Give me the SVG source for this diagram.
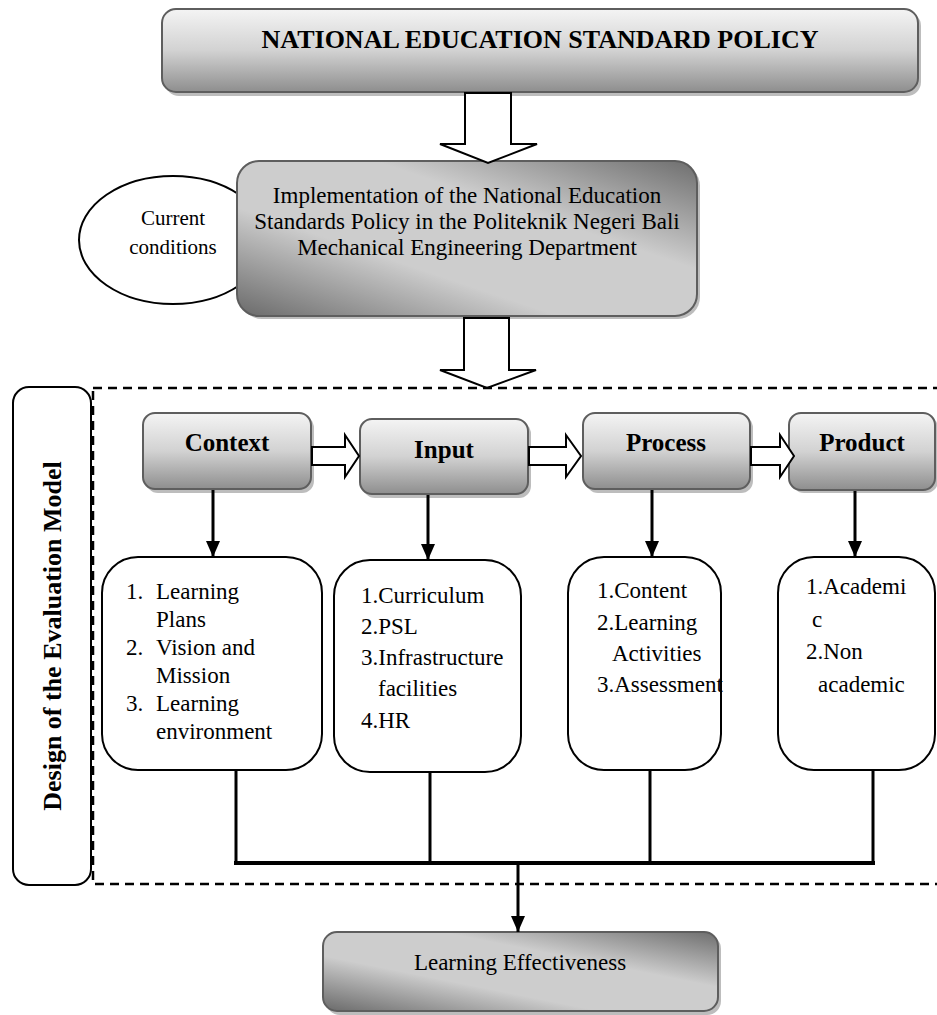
<svg xmlns="http://www.w3.org/2000/svg" width="937" height="1015" viewBox="0 0 937 1015">
<style>
.t{font-family:"Liberation Serif","Times New Roman",serif;fill:#000}
.b{font-weight:bold}
.gbox{stroke:#5e5e5e;stroke-width:2}
.sh{fill:#bdbdbd}
.wbox{fill:#fff;stroke:#000;stroke-width:2}
.hollow{fill:#fff;stroke:#000;stroke-width:2;stroke-linejoin:miter}
.conn{stroke:#000;stroke-width:3;fill:none}
</style>
<defs>
<linearGradient id="gv" x1="0" y1="0" x2="0" y2="1">
<stop offset="0" stop-color="#f4f4f4"/>
<stop offset="0.5" stop-color="#d2d2d2"/>
<stop offset="1" stop-color="#8e8e8e"/>
</linearGradient>
<linearGradient id="gd" x1="1" y1="0" x2="0" y2="1">
<stop offset="0" stop-color="#6e6e6e"/>
<stop offset="0.35" stop-color="#cdcdcd"/>
<stop offset="0.65" stop-color="#cdcdcd"/>
<stop offset="1" stop-color="#6a6a6a"/>
</linearGradient>
<marker id="ah" markerUnits="userSpaceOnUse" markerWidth="16" markerHeight="18" refX="16" refY="7" orient="auto">
<path d="M0,0 L16,7 L0,14 Z" fill="#000"/>
</marker>
</defs>

<g id="policy">
<rect class="sh" x="165" y="12" width="756" height="84" rx="14"/>
<rect class="gbox" x="162" y="9" width="756" height="83" rx="14" fill="url(#gv)"/>
<text class="t b" x="540" y="48" font-size="26" text-anchor="middle">NATIONAL EDUCATION STANDARD POLICY</text>
</g>

<g id="current">
<ellipse class="wbox" cx="173" cy="240" rx="94" ry="64"/>
<text class="t" x="173" y="225" font-size="21" text-anchor="middle">Current</text>
<text class="t" x="173" y="254" font-size="21" text-anchor="middle">conditions</text>
</g>

<g id="implementation">
<rect class="sh" x="240" y="164" width="460" height="155" rx="22"/>
<rect class="gbox" x="237" y="161" width="460" height="155" rx="22" fill="url(#gd)"/>
<text class="t" x="467" y="203" font-size="23" text-anchor="middle">Implementation of the National Education</text>
<text class="t" x="467" y="229" font-size="23" text-anchor="middle">Standards Policy in the Politeknik Negeri Bali</text>
<text class="t" x="467" y="255" font-size="23" text-anchor="middle">Mechanical Engineering Department</text>
</g>

<g id="label">
<rect class="wbox" x="13" y="387" width="78" height="498" rx="16"/>
<text class="t b" transform="translate(52,636) rotate(-90)" x="0" y="9" font-size="26" text-anchor="middle">Design of the Evaluation Model</text>
</g>

<g id="context">
<rect class="sh" x="146" y="416" width="168" height="77" rx="12"/>
<rect class="gbox" x="143" y="413" width="168" height="76" rx="12" fill="url(#gv)"/>
<text class="t b" x="227" y="451" font-size="25" text-anchor="middle">Context</text>
</g>
<g id="input">
<rect class="sh" x="363" y="422" width="168" height="76" rx="12"/>
<rect class="gbox" x="360" y="419" width="168" height="75" rx="12" fill="url(#gv)"/>
<text class="t b" x="444" y="458" font-size="25" text-anchor="middle">Input</text>
</g>
<g id="process">
<rect class="sh" x="586" y="416" width="167" height="77" rx="12"/>
<rect class="gbox" x="583" y="413" width="167" height="76" rx="12" fill="url(#gv)"/>
<text class="t b" x="666" y="451" font-size="25" text-anchor="middle">Process</text>
</g>
<g id="product">
<rect class="sh" x="792" y="416" width="146" height="77" rx="12"/>
<rect class="gbox" x="789" y="413" width="146" height="77" rx="12" fill="url(#gv)"/>
<text class="t b" x="862" y="451" font-size="25" text-anchor="middle">Product</text>
</g>

<g id="list-context">
<rect class="wbox" x="102" y="557" width="220" height="213" rx="36"/>
<g class="t" font-size="23">
<text x="126" y="599">1.</text><text x="156" y="599">Learning</text>
<text x="156" y="627">Plans</text>
<text x="126" y="655">2.</text><text x="156" y="655">Vision and</text>
<text x="156" y="683">Mission</text>
<text x="126" y="711">3.</text><text x="156" y="711">Learning</text>
<text x="156" y="739">environment</text>
</g>
</g>
<g id="list-input">
<rect class="wbox" x="334" y="560" width="187" height="212" rx="36"/>
<g class="t" font-size="23">
<text x="361" y="603">1.Curriculum</text>
<text x="361" y="634">2.PSL</text>
<text x="361" y="665">3.Infrastructure</text>
<text x="378" y="696">facilities</text>
<text x="361" y="728">4.HR</text>
</g>
</g>
<g id="list-process">
<rect class="wbox" x="568" y="557" width="153" height="213" rx="36"/>
<g class="t" font-size="23">
<text x="597" y="598">1.Content</text>
<text x="597" y="630">2.Learning</text>
<text x="612" y="661">Activities</text>
<text x="597" y="692">3.Assessment</text>
</g>
</g>
<g id="list-product">
<rect class="wbox" x="778" y="557" width="157" height="213" rx="36"/>
<g class="t" font-size="23">
<text x="806" y="594">1.Academi</text>
<text x="812" y="627">c</text>
<text x="806" y="659">2.Non</text>
<text x="818" y="692">academic</text>
</g>
</g>

<g id="effectiveness">
<rect class="sh" x="326" y="935" width="395" height="80" rx="14"/>
<rect class="gbox" x="323" y="932" width="395" height="79" rx="14" fill="url(#gd)"/>
<text class="t" x="520" y="970" font-size="23" text-anchor="middle">Learning Effectiveness</text>
</g>

<g id="connectors">
<polygon class="hollow" points="465,93 511,93 511,144 537,144 488,163 440,144 465,144"/>
<polygon class="hollow" points="464,318 509,318 509,370 536,370 487,388 440,370 464,370"/>
<rect x="93" y="388" width="860" height="496" fill="none" stroke="#000" stroke-width="2.5" stroke-dasharray="9,6"/>
<polygon class="hollow" points="312,447 345,447 345,435 359,456 345,477 345,465 312,465"/>
<polygon class="hollow" points="529,447 566,447 566,435 581,456 566,477 566,465 529,465"/>
<polygon class="hollow" points="751,447 780,447 780,435 794,456 780,477 780,465 751,465"/>
<line class="conn" x1="213" y1="490" x2="213" y2="557" marker-end="url(#ah)"/>
<line class="conn" x1="428" y1="495" x2="428" y2="560" marker-end="url(#ah)"/>
<line class="conn" x1="652" y1="490" x2="652" y2="557" marker-end="url(#ah)"/>
<line class="conn" x1="855" y1="491" x2="855" y2="557" marker-end="url(#ah)"/>
<line class="conn" x1="236" y1="770" x2="236" y2="863"/>
<line class="conn" x1="430" y1="772" x2="430" y2="865"/>
<line class="conn" x1="650" y1="770" x2="650" y2="863"/>
<line class="conn" x1="873" y1="770" x2="873" y2="863"/>
<line x1="234" y1="863" x2="875" y2="863" stroke="#000" stroke-width="4"/>
<line class="conn" x1="518" y1="864" x2="518" y2="932" marker-end="url(#ah)"/>
</g>
</svg>
